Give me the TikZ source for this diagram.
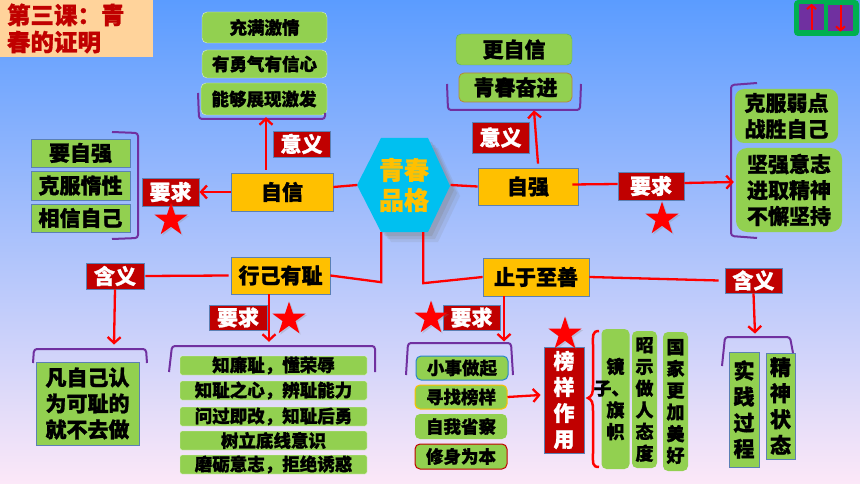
\documentclass[tikz,border=0pt]{standalone}
\usepackage{fontspec}
\setmainfont{Noto Sans CJK SC}[BoldFeatures={FakeBold=1.2}]
\usetikzlibrary{arrows.meta,shapes.geometric,shadows}
\definecolor{skytop}{HTML}{5B9CFF}
\definecolor{skymid}{HTML}{96C5F8}
\definecolor{skylow}{HTML}{FCE8F8}
\definecolor{leaf}{HTML}{92D050}
\definecolor{gold}{HTML}{FFC000}
\definecolor{darkred}{HTML}{C00000}
\definecolor{edgeblue}{HTML}{5B80B4}
\definecolor{plum}{HTML}{7030A0}
\definecolor{tealhex}{HTML}{00C0F0}
\definecolor{peach}{HTML}{FFD39B}
\definecolor{btngreen}{HTML}{00B050}
\newcommand{\fs}[2]{\fontsize{#1}{#2}\selectfont\bfseries}
\tikzset{
	base/.style={inner sep=0pt, text=black, align=center, font=\fs{21}{26}},
	leafbox/.style={base, rectangle, fill=leaf, draw=edgeblue, line width=0.8pt},
	leafround/.style={base, rectangle, rounded corners=5pt, fill=leaf},
	goldbox/.style={base, rectangle, fill=gold, draw=edgeblue, line width=0.8pt},
	tagbox/.style={base, rectangle, fill=darkred, draw=edgeblue, line width=0.8pt, text=white, font=\fs{21}{26}},
	redstar/.style={star, star points=5, star point ratio=2.6, fill=red, inner sep=0pt, minimum size=35pt, drop shadow={shadow xshift=1.5pt, shadow yshift=-1.5pt, opacity=0.25}},
	conn/.style={red, line width=2.3pt},
	connto/.style={conn, ->},
	btnto/.style={red, line width=2pt, ->, >={Straight Barb[length=4pt,width=9pt]}},
	bracket/.style={plum, line width=2pt, rounded corners=3pt},
}
\begin{document}
\begin{tikzpicture}[x=1pt, y=-1pt, >={Straight Barb[length=6pt,width=13pt]}]
			\useasboundingbox (0,0) rectangle (860,484);
			\shade[top color=skytop, middle color=skymid, bottom color=skylow] (0,0) rectangle (860,484);

			\node[base, fill=peach, minimum width=153pt, minimum height=57pt, text=darkred, text width=139pt, align=left, font=\fs{23.5}{27}] (title) at (76.5,28.5) {第三课：青\\春的证明};

			\node[base, rectangle, rounded corners=4pt, fill=btngreen, minimum width=65pt, minimum height=36pt] (btns) at (826.5,18) {};
			\node[base, fill=plum, minimum width=25pt, minimum height=26pt] (btnup) at (811.5,17) {};
			\node[base, fill=plum, minimum width=25pt, minimum height=26pt] (btndown) at (840.5,18.5) {};
			\draw (btnup.south) edge[btnto] (btnup.north);
			\draw (btndown.north) edge[btnto] (btndown.south);

			\fill[tealhex, drop shadow={shadow xshift=10pt, shadow yshift=-10pt, opacity=0.15}, drop shadow={shadow xshift=7pt, shadow yshift=-7pt, opacity=0.2}, drop shadow={shadow xshift=4pt, shadow yshift=-4pt, opacity=0.25}] (357,185) -- (381,138) -- (428,138) -- (450,186) -- (428,232) -- (381,232) -- cycle;
			\node[base, minimum width=93pt, minimum height=94pt, text=gold, font=\fs{25}{30}] (pinge) at (404,185) {青春\\品格};

			\node[leafround, draw=white!70!leaf, minimum width=125pt, minimum height=31pt, font=\fs{17.5}{22}] (jiqing) at (264.5,27.5) {充满激情};
			\node[leafround, draw=white!70!leaf, minimum width=125pt, minimum height=28pt, font=\fs{17.5}{22}] (yongqi) at (264.5,64) {有勇气有信心};
			\node[leafround, draw=white!70!leaf, minimum width=126pt, minimum height=32pt, font=\fs{17.5}{22}] (nengou) at (264,99) {能够展现激发};
			\draw[bracket] (198,93) -- (199,119) -- (325,119) -- (325,113);

			\node[leafbox, minimum width=99pt, minimum height=28pt] (yaoziqiang) at (80.5,153) {要自强};
			\node[leafbox, minimum width=99pt, minimum height=29pt] (kefu) at (80.5,185.5) {克服惰性};
			\node[leafbox, minimum width=99pt, minimum height=28pt] (xiangxin) at (80.5,218) {相信自己};
			\draw[bracket] (112,132) -- (138,133) -- (138,238) -- (112,239);

			\node[goldbox, minimum width=102pt, minimum height=38pt] (zixin) at (282,192) {自信};
			\node[tagbox, minimum width=57pt, minimum height=26pt] (yiyia) at (301.5,144) {意义};
			\node[tagbox, minimum width=57pt, minimum height=28pt] (yaoqiua) at (170.5,192) {要求};
			\node[redstar] (stara) at (171,220) {};

			\node[goldbox, minimum width=100pt, minimum height=37pt] (ziqiang) at (528,186.5) {自强};
			\node[tagbox, minimum width=57pt, minimum height=31pt] (yiyib) at (500.5,137.5) {意义};
			\node[tagbox, minimum width=66pt, minimum height=28pt] (yaoqiub) at (651,186) {要求};
			\node[redstar] (starb) at (662,219) {};

			\node[leafround, draw=leaf!60!teal, minimum width=116pt, minimum height=31pt] (gengzixin) at (514,49.5) {更自信};
			\node[leafround, draw=red!35!leaf, line width=0.8pt, minimum width=113pt, minimum height=29pt] (qingchun) at (515.5,87.5) {青春奋进};
			\draw[bracket] (447,84) -- (448,110) -- (580,110) -- (581,84);

			\node[leafround, rounded corners=9pt, minimum width=103pt, minimum height=54pt] (ruodian) at (786.5,116) {克服弱点\\战胜自己};
			\node[leafround, rounded corners=11pt, minimum width=106pt, minimum height=84pt] (jianqiang) at (789,190) {坚强意志\\进取精神\\不懈坚持};
			\draw[bracket] (757,83) -- (731,85) -- (731,236) -- (757,238);

			\node[goldbox, minimum width=99pt, minimum height=37pt] (xingji) at (280.5,275.5) {行己有耻};
			\node[tagbox, minimum width=58pt, minimum height=26pt] (hanyia) at (115,276) {含义};
			\node[tagbox, minimum width=58pt, minimum height=25pt] (yaoqiuc) at (238,317.5) {要求};
			\node[redstar] (starc) at (289,319) {};

			\draw[bracket] (33,363) -- (34,349) -- (146,349) -- (147,363);
			\node[leafbox, minimum width=103pt, minimum height=83pt] (fan) at (87.5,403.5) {凡自己认\\为可耻的\\就不去做};

			\draw[bracket] (169,372) -- (172,346) -- (375,346) -- (375,372);
			\node[leafround, rounded corners=2pt, draw=white!80!leaf, minimum width=187pt, minimum height=19pt, font=\fs{17.5}{22}] (zhilian) at (273.5,365.5) {知廉耻，懂荣辱};
			\node[leafround, rounded corners=2pt, draw=white!80!leaf, minimum width=187pt, minimum height=19pt, font=\fs{17.5}{22}] (zhichi) at (273.5,390.5) {知耻之心，辨耻能力};
			\node[leafround, rounded corners=2pt, draw=white!80!leaf, minimum width=187pt, minimum height=19pt, font=\fs{17.5}{22}] (wenguo) at (273.5,416.5) {问过即改，知耻后勇};
			\node[leafround, rounded corners=2pt, draw=white!80!leaf, minimum width=187pt, minimum height=19pt, font=\fs{17.5}{22}] (shuli) at (273.5,440.5) {树立底线意识};
			\node[leafround, rounded corners=2pt, draw=white!80!leaf, minimum width=187pt, minimum height=19pt, font=\fs{17.5}{22}] (moli) at (273.5,464.5) {磨砺意志，拒绝诱惑};

			\node[goldbox, minimum width=106pt, minimum height=38pt] (zhiyu) at (536,277) {止于至善};
			\node[tagbox, minimum width=57pt, minimum height=25pt] (hanyib) at (753.5,280.5) {含义};
			\node[tagbox, minimum width=57pt, minimum height=25pt] (yaoqiud) at (471.5,317.5) {要求};
			\node[redstar] (stard) at (431,318) {};

			\draw[bracket] (406,375) -- (408,343) -- (511,343) -- (513,375);
			\node[leafround, draw=cyan!60!blue!90, line width=1pt, minimum width=92pt, minimum height=24pt, font=\fs{17.5}{22}] (xiaoshi) at (462,368) {小事做起};
			\node[leafround, draw=gold, line width=1pt, minimum width=92pt, minimum height=24pt, font=\fs{17.5}{22}] (xunzhao) at (461,397) {寻找榜样};
			\node[leafround, minimum width=92pt, minimum height=25pt, font=\fs{17.5}{22}] (zishen) at (461,426.5) {自我省察};
			\node[leafround, draw=darkred, line width=1pt, minimum width=92pt, minimum height=25pt, font=\fs{17.5}{22}] (xiushen) at (461,456.5) {修身为本};

			\node[tagbox, minimum width=40pt, minimum height=106pt] (bangyang) at (564,400) {榜\\样\\作\\用};
			\node[redstar] (stare) at (565,334) {};
			\draw[red, line width=2.5pt] (599,331) .. controls (592,331) and (593,336) .. (593,345) -- (593,385) .. controls (593,394) and (592,396) .. (588,398) .. controls (592,400) and (593,402) .. (593,411) -- (593,453) .. controls (593,463) and (592,467) .. (599,467);
			\node[leafround, minimum width=27pt, minimum height=140pt, font=\fs{18}{21.7}] (jingzi) at (615.5,399) {镜\\\hspace*{-8pt}子、\\旗\\帜};
			\node[leafround, minimum width=25pt, minimum height=137pt, font=\fs{18}{21.7}] (zhaoshi) at (644.5,399.5) {昭\\示\\做\\人\\态\\度};
			\node[leafround, minimum width=25pt, minimum height=139pt, font=\fs{18}{21.7}] (guojia) at (675.5,401.5) {国\\家\\更\\加\\美\\好};

			\node[leafbox, minimum width=30pt, minimum height=115pt, font=\fs{21}{26}] (shijian) at (744,409.5) {实\\践\\过\\程};
			\node[leafbox, minimum width=29pt, minimum height=106pt, font=\fs{21}{26}] (jingshen) at (780.5,406) {精\\神\\状\\态};
			\draw[bracket] (722,366) -- (725,337) -- (790,337) -- (793,353);

			\draw[conn] ([yshift=5pt]zixin.east) -- (pinge.west);
			\draw[conn] (pinge.east) -- (ziqiang.west);
			\draw (zixin.west) edge[connto] (yaoqiua.east);
			\draw ([xshift=-16pt,yshift=3pt]zixin.north) edge[connto] ([xshift=2pt,yshift=-2pt]nengou.south);
			\draw ([xshift=10pt,yshift=4pt]ziqiang.north) edge[connto] ([xshift=18.5pt,yshift=-8pt]qingchun.south);
			\draw[conn] ([xshift=-6pt,yshift=2pt]ziqiang.east) -- ([yshift=2pt]yaoqiub.west);
			\draw ([yshift=3pt]yaoqiub.east) edge[connto] ([xshift=-2pt,yshift=8pt]jianqiang.west);
			\draw[conn] (xingji.east) -- ([xshift=24pt,yshift=-50pt]pinge.south west) -- ([xshift=24pt]pinge.south west);
			\draw[conn] ([xshift=-27.5pt]pinge.south east) -- ([xshift=-27.5pt,yshift=-51pt]pinge.south east) -- (zhiyu.west);
			\draw[conn] ([xshift=-2pt]xingji.west) -- ([xshift=1pt]hanyia.east);
			\draw (hanyia.south) edge[connto] ([xshift=26.5pt,yshift=17pt]fan.north);
			\draw ([xshift=-11.5pt]xingji.south) edge[connto] ([xshift=-4.5pt,yshift=14pt]zhilian.north);
			\draw[conn] (zhiyu.east) -- ([xshift=-6pt]hanyib.west);
			\draw (hanyib.south) edge[connto] ([xshift=11pt,yshift=18pt]shijian.north);
			\draw ([xshift=-32pt]zhiyu.south) edge[connto] ([xshift=42pt,yshift=14pt]xiaoshi.north);
			\draw (xunzhao.east) edge[connto] ([xshift=-3pt,yshift=5pt]bangyang.west);
			\end{tikzpicture}
\end{document}
